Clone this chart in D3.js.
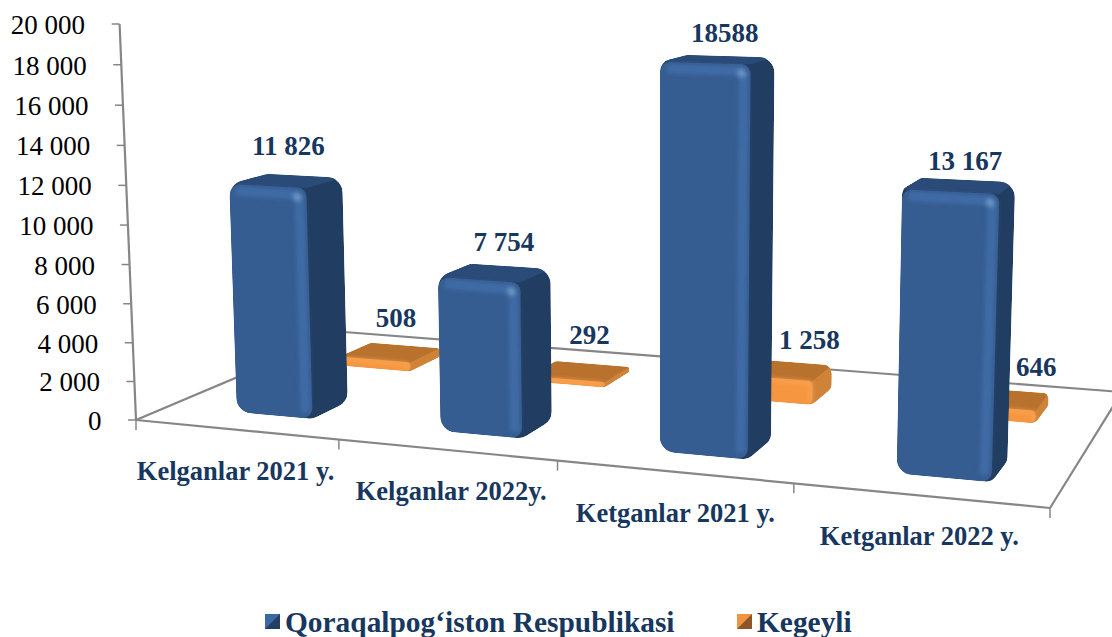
<!DOCTYPE html>
<html>
<head>
<meta charset="utf-8">
<script src="https://cdn.jsdelivr.net/npm/d3@7"></script>
<style>
html, body { margin: 0; padding: 0; background: #fff; overflow: hidden; }
text { font-family: "Liberation Serif", serif; }
</style>
</head>
<body>
<svg id="chart"></svg>
<script>
// ------------------------------ DATA ------------------------------
var categories = ["Kelganlar 2021 y.", "Kelganlar 2022y.", "Ketganlar 2021 y.", "Ketganlar 2022 y."];
var seriesNames = ["Qoraqalpog\u2018iston Respublikasi", "Kegeyli"];
var respublikaValues = [11826, 7754, 18588, 13167];
var kegeyliValues = [508, 292, 1258, 646];
var respublikaLabels = ["11 826", "7 754", "18588", "13 167"];
var kegeyliLabels = ["508", "292", "1 258", "646"];
var tickValues = [0, 2000, 4000, 6000, 8000, 10000, 12000, 14000, 16000, 18000, 20000];
var tickLabels = ["0", "2 000", "4 000", "6 000", "8 000", "10 000", "12 000", "14 000", "16 000", "18 000", "20 000"];

// ------------------------------ LAYOUT ------------------------------
var svgWidth = 1112, svgHeight = 637;

var svg = d3.select("#chart")
    .attr("width", svgWidth)
    .attr("height", svgHeight);

// where the floor of the 3d box lands on the page
var floor = { fl: [136, 420], fr: [1050, 508], br: [1122, 392], bl: [344, 332] };
var vanish = [657, 13000]; // the uprights all lean to this point
var axisTopY = 24;

//Square to quad mapping for the floor, u runs along the categories and v goes back in depth
var dx1 = floor.fr[0] - floor.br[0], dx2 = floor.bl[0] - floor.br[0];
var dy1 = floor.fr[1] - floor.br[1], dy2 = floor.bl[1] - floor.br[1];
var sx = floor.fl[0] - floor.fr[0] + floor.br[0] - floor.bl[0];
var sy = floor.fl[1] - floor.fr[1] + floor.br[1] - floor.bl[1];
var den = dx1 * dy2 - dx2 * dy1;
var wu = (sx * dy2 - dx2 * sy) / den;
var wv = (dx1 * sy - sx * dy1) / den;
var xu = floor.fr[0] - floor.fl[0] + wu * floor.fr[0];
var xv = floor.bl[0] - floor.fl[0] + wv * floor.bl[0];
var yu = floor.fr[1] - floor.fl[1] + wu * floor.fr[1];
var yv = floor.bl[1] - floor.fl[1] + wv * floor.bl[1];
var ws = -(floor.fl[1] - axisTopY) / (vanish[1] - axisTopY);

function project(u, v, h) {
    var w = wu * u + wv * v + 1 + ws * h;
    return [
        (xu * u + xv * v + floor.fl[0] + vanish[0] * ws * h) / w,
        (yu * u + yv * v + floor.fl[1] + vanish[1] * ws * h) / w
    ];
}

// The scales, all of them work in the unit box that project() takes
var xScale = d3.scaleBand()
    .domain(categories)
    .range([0.009, 1.009]) // bars sit slightly right of the tick gaps
    .paddingInner(0.62)
    .paddingOuter(0.31);

var depthScale = d3.scaleBand()
    .domain(seriesNames)
    .range([-0.025, 0.975])
    .paddingInner(0.66)
    .paddingOuter(0.33);

var yScale = d3.scaleLinear()
    .domain([0, 20000])
    .range([0, 1]);

var axisColor = "#868686";
var labelColor = "#17375e";

var blue = { top: "#2b4b77", side: "#223e62", front: "#355d91", bevel: "#3f6ca6", spot: "#6b97c8", radius: 16 };
var orange = { top: "#b8722f", side: "#cf8338", front: "#f6963f", bevel: "#f9a655", spot: "#fbb873", radius: 9 };

var defs = svg.append("defs");
defs.append("filter")
    .attr("id", "soft")
    .attr("x", "-30%").attr("y", "-30%").attr("width", "160%").attr("height", "160%")
    .append("feGaussianBlur")
    .attr("stdDeviation", 2.2);
defs.append("filter")
    .attr("id", "edge")
    .attr("x", "-5%").attr("y", "-5%").attr("width", "110%").attr("height", "110%")
    .append("feGaussianBlur")
    .attr("stdDeviation", 0.6);

function line(g, a, b, width) {
    g.append("line")
        .attr("x1", a[0]).attr("y1", a[1])
        .attr("x2", b[0]).attr("y2", b[1])
        .attr("stroke", axisColor)
        .attr("stroke-width", width);
}

// ------------------------------ FLOOR AND AXES ------------------------------
var axes = svg.append("g");

line(axes, project(0, 0, 0), project(1, 0, 0), 2.2);
line(axes, project(1, 0, 0), project(1, 1, 0), 2.2);
line(axes, project(1, 1, 0), project(0, 1, 0), 2.2);
line(axes, project(0, 1, 0), project(0, 0, 0), 2.2);
line(axes, project(0, 0, 0), project(0, 0, 1), 2.2);

// category ticks hang below the front edge
d3.range(0, 5).forEach(function(i) {
    var p = project(i / 4, 0, 0);
    line(axes, p, [p[0], p[1] + 10], 1.5);
});

tickValues.forEach(function(d, i) {
    var p = project(0, 0, yScale(d));
    line(axes, [p[0] - 8, p[1]], p, 1.5);
    svg.append("text")
        .attr("x", p[0] - 34.5)
        .attr("y", p[1] + 10)
        .attr("text-anchor", "end")
        .attr("font-size", 27)
        .attr("fill", "#000")
        .text(tickLabels[i]);
});

var categoryNudge = [0, 5, 2, 0];
categories.forEach(function(d, i) {
    var p = project((i + 0.5) / 4, 0, 0);
    svg.append("text")
        .attr("x", p[0] + categoryNudge[i])
        .attr("y", p[1] + 50)
        .attr("text-anchor", "middle")
        .attr("font-size", 26.5)
        .attr("font-weight", "bold")
        .attr("fill", labelColor)
        .text(d);
});

// ------------------------------ BARS ------------------------------
//Rounded outline of a polygon, d3.path does the corner arcs
function roundedPath(points, radius) {
    var path = d3.path();
    var n = points.length;
    var start = [(points[n - 1][0] + points[0][0]) / 2, (points[n - 1][1] + points[0][1]) / 2];
    path.moveTo(start[0], start[1]);
    points.forEach(function(p, i) {
        var prev = points[(i + n - 1) % n], next = points[(i + 1) % n];
        var shortest = Math.min(dist(p, prev), dist(p, next));
        path.arcTo(p[0], p[1], next[0], next[1], Math.min(radius, shortest * 0.45));
    });
    path.closePath();
    return path.toString();
}

function dist(a, b) {
    return Math.sqrt((a[0] - b[0]) * (a[0] - b[0]) + (a[1] - b[1]) * (a[1] - b[1]));
}

function polygon(points) {
    return "M" + points.map(function(p) { return p.join(","); }).join("L") + "Z";
}

var barCount = 0;

function drawBar(category, seriesName, value, colors) {
    var u0 = xScale(category), u1 = u0 + xScale.bandwidth();
    var v0 = depthScale(seriesName), v1 = v0 + depthScale.bandwidth();
    var h = yScale(value);

    var fbl = project(u0, v0, 0), fbr = project(u1, v0, 0), bbr = project(u1, v1, 0);
    var ftl = project(u0, v0, h), ftr = project(u1, v0, h);
    var btl = project(u0, v1, h), btr = project(u1, v1, h);

    var id = "bar" + (barCount++);
    var outline = roundedPath([fbl, ftl, btl, btr, bbr, fbr], colors.radius);

    defs.append("clipPath").attr("id", id).append("path").attr("d", outline);

    var g = svg.append("g")
        .attr("filter", "url(#edge)")
        .append("g")
        .attr("clip-path", "url(#" + id + ")");

    g.append("path").attr("d", outline).attr("fill", colors.side);
    g.append("path").attr("d", polygon([ftl, btl, btr, ftr])).attr("fill", colors.top);
    g.append("path").attr("d", roundedPath([fbl, ftl, ftr, fbr], colors.radius * 0.6)).attr("fill", colors.front);

    // bevels only show on the tall bars, the flat ones are nearly all top face
    var tall = dist(ftl, fbl) > 40;
    var inset = tall ? 7 : 2;
    var bevelWidth = tall ? 9 : 3;
    var soft = g.append("g").attr("filter", "url(#soft)");

    soft.append("line")
        .attr("x1", ftl[0] + inset).attr("y1", ftl[1] + inset)
        .attr("x2", ftr[0] - inset).attr("y2", ftr[1] + inset)
        .attr("stroke", colors.bevel).attr("stroke-width", bevelWidth);
    soft.append("line")
        .attr("x1", ftr[0] - inset).attr("y1", ftr[1] + inset)
        .attr("x2", fbr[0] - inset).attr("y2", fbr[1] - inset)
        .attr("stroke", colors.bevel).attr("stroke-width", bevelWidth);

    if (tall) {
        soft.append("circle")
            .attr("cx", ftr[0] - inset - 2).attr("cy", ftr[1] + inset + 2)
            .attr("r", 4)
            .attr("fill", colors.spot);
    }
}

function barLabel(category, seriesName, value, text, nudge, lift) {
    var u = xScale(category) + xScale.bandwidth() / 2;
    var v = depthScale(seriesName) + depthScale.bandwidth() / 2;
    var p = project(u, v, yScale(value));
    svg.append("text")
        .attr("x", p[0] + nudge)
        .attr("y", p[1] - lift)
        .attr("text-anchor", "middle")
        .attr("font-size", 27)
        .attr("font-weight", "bold")
        .attr("fill", labelColor)
        .text(text);
}

// Back row first so the blue bars cover the orange ones
categories.forEach(function(d, i) {
    drawBar(d, seriesNames[1], kegeyliValues[i], orange);
});
categories.forEach(function(d, i) {
    drawBar(d, seriesNames[0], respublikaValues[i], blue);
});

// the labels were moved by hand in the original, so they don't follow the bars exactly
var blueNudge = [2, 9, 7, 6];
var orangeNudge = [6, 10, 27, 37];
var blueLift = [25.5, 21.5, 17.5, 15.5];
var orangeLift = [25, 27, 21, 23];
categories.forEach(function(d, i) {
    barLabel(d, seriesNames[0], respublikaValues[i], respublikaLabels[i], blueNudge[i], blueLift[i]);
    barLabel(d, seriesNames[1], kegeyliValues[i], kegeyliLabels[i], orangeNudge[i], orangeLift[i]);
});

// ------------------------------ LEGEND ------------------------------
function legendKey(x, y, light, dark, name) {
    var s = 15;
    svg.append("rect").attr("x", x).attr("y", y).attr("width", s).attr("height", s).attr("fill", dark);
    svg.append("path")
        .attr("d", polygon([[x, y], [x + s, y], [x + s / 2, y + s / 2], [x, y + s]]))
        .attr("fill", light);
    svg.append("text")
        .attr("x", x + 20)
        .attr("y", y + 18)
        .attr("font-size", 29.4)
        .attr("font-weight", "bold")
        .attr("fill", labelColor)
        .text(name);
}

legendKey(265, 614, "#3a69a3", "#233f64", seriesNames[0]);
legendKey(737, 614, "#f0953f", "#8e5628", seriesNames[1]);
</script>
</body>
</html>
